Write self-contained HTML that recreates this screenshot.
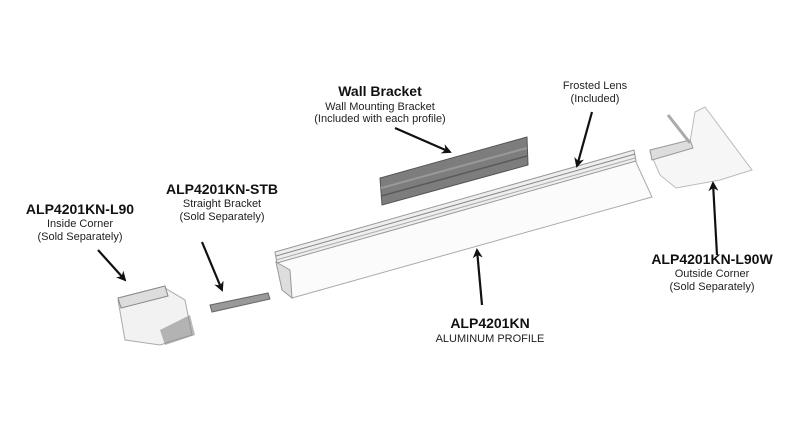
<!DOCTYPE html>
<html><head><meta charset="utf-8"><style>
html,body{margin:0;padding:0;background:#fff;}
svg{display:block}
text{font-family:"Liberation Sans",sans-serif;fill:#111;text-anchor:middle}
.b{font-weight:bold;font-size:14px}
.s{font-size:11px;fill:#222}
</style></head><body>
<svg width="800" height="444" viewBox="0 0 800 444" xmlns="http://www.w3.org/2000/svg">
<defs><marker id="a" markerWidth="10" markerHeight="10" refX="8" refY="5" orient="auto" markerUnits="userSpaceOnUse"><path d="M0,0 L10,5 L0,10 L3,5 z" fill="#111"/></marker></defs>
<!-- wall bracket -->
<polygon points="380,178 527,137 528,165 382,205" fill="#7d7d7d" stroke="#555"/>
<line x1="381" y1="188" x2="527" y2="148" stroke="#999" stroke-width="2"/>
<line x1="381" y1="196" x2="527" y2="156" stroke="#5a5a5a" stroke-width="1.5"/>
<!-- profile -->
<polygon points="276,262 635,160 652,197 292,298" fill="#fbfbfb" stroke="#aaa"/>
<polygon points="275,252 634,150 636,161 277,263" fill="#eee" stroke="#999"/>
<line x1="276" y1="256" x2="635" y2="154" stroke="#888"/>
<line x1="276" y1="260" x2="635" y2="158" stroke="#aaa"/>
<polygon points="276,262 290,270 292,298 282,290" fill="#ddd" stroke="#999"/>
<!-- L90 -->
<polygon points="118,300 165,288 185,300 192,335 160,345 125,340" fill="#f2f2f2" stroke="#aaa"/>
<polygon points="118,298 165,286 168,296 121,308" fill="#ddd" stroke="#888"/>
<polygon points="160,330 190,315 195,335 165,345" fill="#888" opacity=".6"/>
<!-- STB -->
<polygon points="210,305 268,293 270,299 212,312" fill="#999" stroke="#666"/>
<!-- L90W -->
<polygon points="650,152 690,142 695,112 705,107 752,170 720,180 676,188 660,175" fill="#f6f6f6" stroke="#bbb"/>
<polygon points="650,150 690,140 693,148 652,160" fill="#ddd" stroke="#999"/>
<line x1="668" y1="115" x2="690" y2="143" stroke="#aaa" stroke-width="3"/>
<!-- arrows -->
<g stroke="#111" stroke-width="2.2" fill="none" marker-end="url(#a)">
<line x1="395" y1="128" x2="450" y2="152"/>
<line x1="592" y1="112" x2="577" y2="166"/>
<line x1="98" y1="250" x2="125" y2="280"/>
<line x1="202" y1="242" x2="222" y2="290"/>
<line x1="482" y1="305" x2="477" y2="250"/>
<line x1="717" y1="255" x2="713" y2="183"/>
</g>
<text class="b" x="380" y="96">Wall Bracket</text>
<text class="s" x="380" y="110">Wall Mounting Bracket</text>
<text class="s" x="380" y="122">(Included with each profile)</text>
<text class="s" x="595" y="89">Frosted Lens</text>
<text class="s" x="595" y="102">(Included)</text>
<text class="b" x="80" y="214">ALP4201KN-L90</text>
<text class="s" x="80" y="227">Inside Corner</text>
<text class="s" x="80" y="240">(Sold Separately)</text>
<text class="b" x="222" y="194">ALP4201KN-STB</text>
<text class="s" x="222" y="207">Straight Bracket</text>
<text class="s" x="222" y="220">(Sold Separately)</text>
<text class="b" x="712" y="264">ALP4201KN-L90W</text>
<text class="s" x="712" y="277">Outside Corner</text>
<text class="s" x="712" y="290">(Sold Separately)</text>
<text class="b" x="490" y="328">ALP4201KN</text>
<text class="s" x="490" y="342">ALUMINUM PROFILE</text>
</svg>
</body></html>
